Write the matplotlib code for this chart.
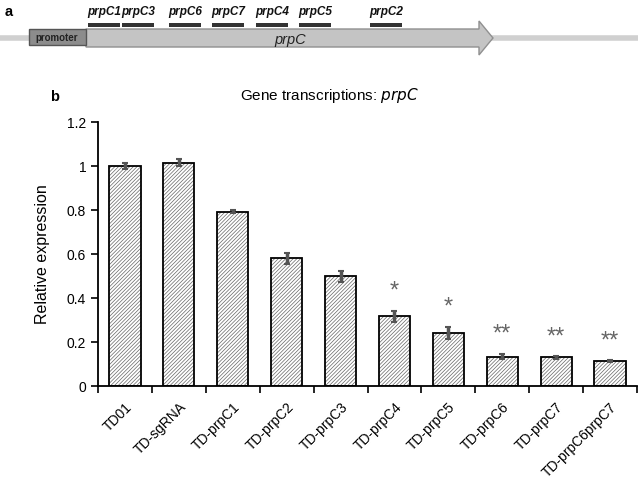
import matplotlib
matplotlib.use('Agg')
import matplotlib.pyplot as plt
from matplotlib.patches import Rectangle, FancyArrow

plt.rcParams['font.family'] = ['Liberation Sans', 'DejaVu Sans']
plt.rcParams['hatch.linewidth'] = 0.5

# datos del panel b
grupos = ['TD01', 'TD-sgRNA', 'TD-prpC1', 'TD-prpC2', 'TD-prpC3', 'TD-prpC4',
          'TD-prpC5', 'TD-prpC6', 'TD-prpC7', 'TD-prpC6prpC7']
expresion = [1.0, 1.015, 0.793, 0.58, 0.50, 0.318, 0.242, 0.134, 0.13, 0.113]
error = [0.015, 0.015, 0.005, 0.025, 0.025, 0.025, 0.028, 0.013, 0.005, 0.006]
signif = ['', '', '', '', '', '*', '*', '**', '**', '**']

# datos del panel a (fragmentos sobre el gen)
fragmentos = ['prpC1', 'prpC3', 'prpC6', 'prpC7', 'prpC4', 'prpC5', 'prpC2']
inicio_frag = [88, 122, 169, 212, 256, 299, 370]

fig = plt.figure(figsize=(6.38, 4.86), dpi=100)

# ---- Panel a: esquema del gen ----
axa = fig.add_axes([0, 1 - 70 / 486, 1, 70 / 486])
axa.set_xlim(0, 638)
axa.set_ylim(70, 0)
axa.axis('off')
axa.plot([0, 638], [38, 38], color='#d0d0d0', lw=4, zorder=1)
axa.add_patch(Rectangle((29, 29), 57, 16, facecolor='#8c8c8c', edgecolor='#555555', lw=1, zorder=3))
axa.text(57, 38, 'promoter', ha='center', va='center', fontsize=7, fontweight='bold', color='#222222', zorder=4)
axa.add_patch(FancyArrow(86, 38, 407, 0, width=18, head_width=34, head_length=14,
                         length_includes_head=True, facecolor='#c4c4c4', edgecolor='#909090', lw=1, zorder=2))
axa.text(290, 40, 'prpC', ha='center', va='center', fontsize=10.5, style='italic', color='#222222', zorder=4)
for nombre, x0 in zip(fragmentos, inicio_frag):
    axa.add_patch(Rectangle((x0, 23.5), 32, 4, facecolor='#333333', edgecolor='none', zorder=4))
    axa.text(x0 + 16, 12, nombre, ha='center', va='center', fontsize=8.5,
             style='italic', fontweight='bold', color='#111111')
fig.text(0.008, 0.99, 'a', fontsize=10.5, fontweight='bold', va='top')

# ---- Panel b: barras ----
ax = fig.add_axes([98 / 638, 1 - 386 / 486, 539 / 638, 264 / 486])
x = range(len(grupos))
ax.bar(x, expresion, width=0.58, color='white', edgecolor='#666666', hatch='/////////', lw=0, zorder=2)
ax.bar(x, expresion, width=0.58, fill=False, edgecolor='black', lw=1.3, zorder=3)
ax.errorbar(x, expresion, yerr=error, fmt='none', ecolor='#555555', elinewidth=2.5,
            capsize=2, capthick=1.5, zorder=4)
for i, s in enumerate(signif):
    if s:
        ax.text(i, expresion[i] + error[i] + 0.035, s, ha='center', va='bottom',
                fontsize=17, color='#666666')

ax.set_xlim(-0.5, len(grupos) - 0.5)
ax.set_ylim(0, 1.2)
ax.set_yticks([0, 0.2, 0.4, 0.6, 0.8, 1.0, 1.2])
ax.set_yticklabels(['0', '0.2', '0.4', '0.6', '0.8', '1', '1.2'])
ax.set_xticks(list(x))
ax.set_xticklabels(grupos, rotation=45, ha='right', rotation_mode='anchor')
ax.set_xticks([i - 0.5 for i in range(len(grupos) + 1)], minor=True)
ax.tick_params(axis='x', which='major', length=0, pad=10, labelsize=10)
ax.tick_params(axis='x', which='minor', length=5, direction='out', width=1.2)
ax.tick_params(axis='y', length=5, direction='out', width=1.2, labelsize=10)
for lado in ['top', 'right']:
    ax.spines[lado].set_visible(False)
for lado in ['left', 'bottom']:
    ax.spines[lado].set_linewidth(1.3)
ax.set_ylabel('Relative expression', fontsize=11.5, labelpad=12)
ax.set_title('Gene transcriptions: $\\it{prpC}$', fontsize=11, pad=16, x=0.43)
fig.text(50 / 638, 1 - 97 / 486, 'b', fontsize=10.5, fontweight='bold', va='center')

fig.savefig('out.png', dpi=100)
